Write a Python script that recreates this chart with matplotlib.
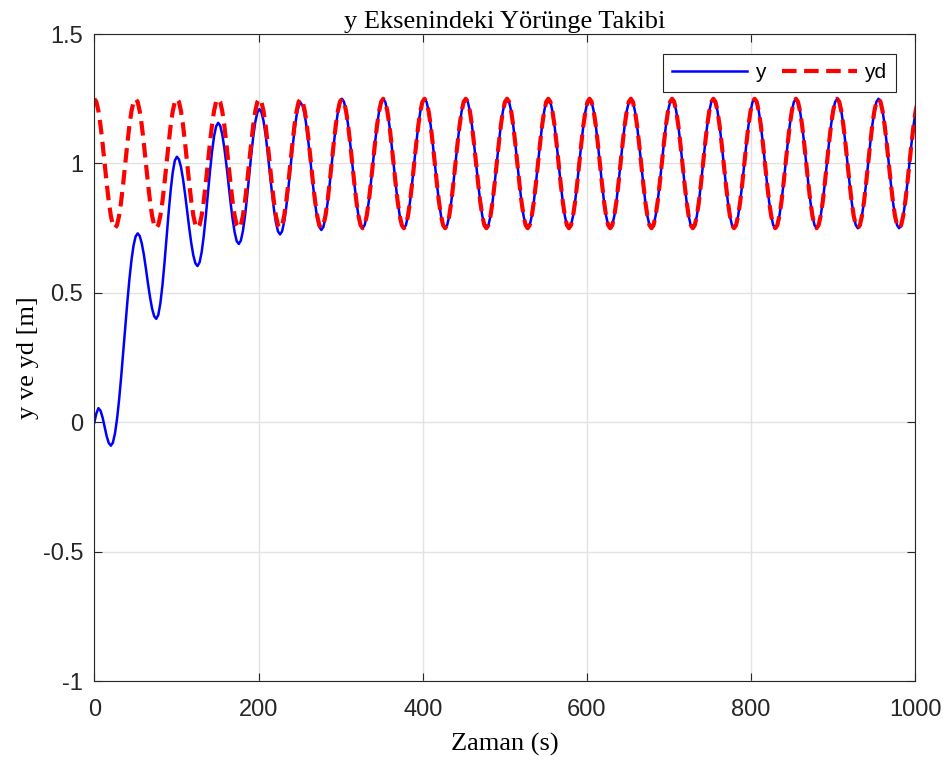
import numpy as np
import matplotlib
matplotlib.use("Agg")
import matplotlib.pyplot as plt

# zaman ekseni: 20 periyot, periyot basina 20 ornek
period = 50.27
n_periods = 20
samples_per_period = 20

# referans yorunge yd, bir periyot boyunca
yd_period = [1.25, 1.238, 1.202, 1.147, 1.077, 1.0, 0.923, 0.853, 0.798, 0.762,
             0.75, 0.762, 0.798, 0.853, 0.923, 1.0, 1.077, 1.147, 1.202, 1.238]

# y cikisinin gecici rejimi (ilk 6 periyot, 120 ornek)
y_transient = [
    0.0, 0.035, 0.055, 0.045, 0.019, -0.018, -0.054, -0.080, -0.09, -0.078,
    -0.043, 0.013, 0.087, 0.175, 0.271, 0.369, 0.465, 0.553, 0.627, 0.683,
    0.718, 0.73, 0.72, 0.691, 0.648, 0.594, 0.536, 0.483, 0.439, 0.410,
    0.40, 0.415, 0.460, 0.529, 0.616, 0.713, 0.810, 0.897, 0.966, 1.011,
    1.026, 1.016, 0.986, 0.939, 0.880, 0.815, 0.750, 0.691, 0.644, 0.614,
    0.604, 0.618, 0.657, 0.718, 0.795, 0.881, 0.966, 1.043, 1.104, 1.143,
    1.157, 1.146, 1.112, 1.060, 0.995, 0.923, 0.851, 0.786, 0.734, 0.700,
    0.689, 0.702, 0.739, 0.796, 0.869, 0.950, 1.030, 1.103, 1.160, 1.197,
    1.21, 1.198, 1.164, 1.110, 1.043, 0.968, 0.893, 0.826, 0.772, 0.738,
    0.726, 0.738, 0.775, 0.831, 0.902, 0.980, 1.058, 1.129, 1.185, 1.222,
    1.234, 1.222, 1.187, 1.133, 1.064, 0.989, 0.913, 0.844, 0.790, 0.755,
    0.743, 0.755, 0.791, 0.846, 0.916, 0.994, 1.072, 1.142, 1.197, 1.233,
]

x_ticks = [0, 200, 400, 600, 800, 1000]
y_ticks = [-1, -0.5, 0, 0.5, 1, 1.5]
y_tick_labels = ['-1', '-0.5', '0', '0.5', '1', '1.5']

t = np.linspace(0, period * n_periods, n_periods * samples_per_period + 1)
yd = np.array(yd_period * n_periods + [yd_period[0]])
n_tr = len(y_transient) // samples_per_period
y = np.array(y_transient + yd_period * (n_periods - n_tr) + [yd_period[0]])

serif = 'Liberation Serif'
sans = 'Liberation Sans'
dark = '#262626'

fig = plt.figure(figsize=(9.49, 7.63), dpi=100)
ax = fig.add_axes([0.0994, 0.1071, 0.8651, 0.8483])

ax.plot(t, y, color='#0000FF', lw=1.8, label='y')
ax.plot(t, yd, color='#FF0000', lw=3, ls=(0, (3.5, 1.8)), label='yd')

ax.set_xlim(0, 1000)
ax.set_ylim(-1, 1.5)
ax.set_xticks(x_ticks)
ax.set_yticks(y_ticks)
ax.set_yticklabels(y_tick_labels)

ax.grid(True, color='#e3e3e3', lw=1)
ax.set_axisbelow(True)
for s in ax.spines.values():
    s.set_color(dark)
    s.set_linewidth(0.8)
ax.tick_params(direction='in', length=6, width=0.8, top=True, right=True,
               labelsize=17, colors=dark, pad=8)
ax.tick_params(axis='x', pad=13)
for lab in ax.get_xticklabels() + ax.get_yticklabels():
    lab.set_fontfamily(sans)

ax.set_title('y Eksenindeki Yörünge Takibi', fontfamily=serif, fontsize=19, pad=4)
ax.set_xlabel('Zaman (s)', fontfamily=serif, fontsize=19, labelpad=8)
ax.set_ylabel('y ve yd [m]', fontfamily=serif, fontsize=19, labelpad=3)

leg = ax.legend(loc='upper right', ncol=2, fancybox=False, framealpha=1,
                edgecolor=dark, handlelength=3.6, columnspacing=0.8,
                handletextpad=0.35, borderaxespad=0.95, borderpad=0.45,
                prop={'family': sans, 'size': 15})
leg.get_frame().set_linewidth(0.8)

fig.savefig('out.png', dpi=100)
